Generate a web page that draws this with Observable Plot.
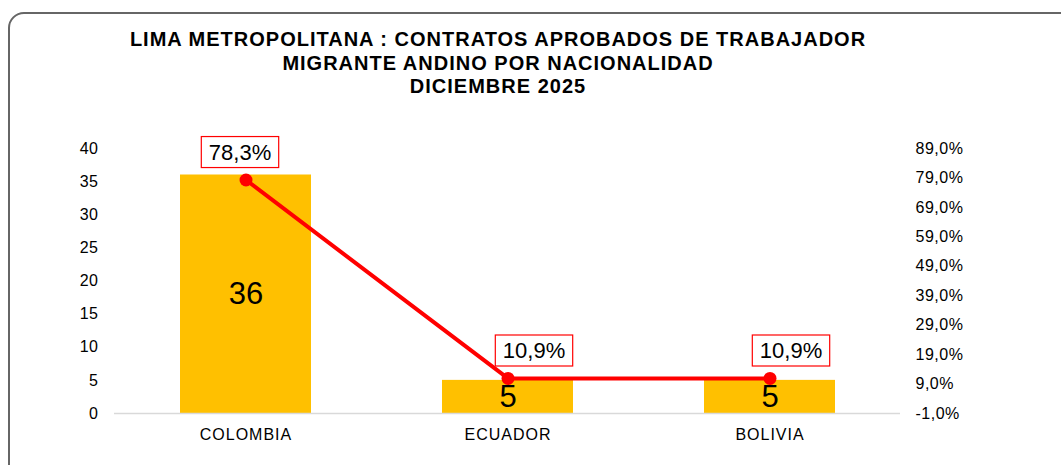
<!DOCTYPE html>
<html>
<head>
<meta charset="utf-8">
<script src="https://cdn.jsdelivr.net/npm/d3@7"></script>
<script src="https://cdn.jsdelivr.net/npm/@observablehq/plot@0.6"></script>
<style>
  html, body { margin: 0; padding: 0; background: #fff; overflow: hidden; }
  body { width: 1061px; height: 465px; position: relative; font-family: "Liberation Sans", Arial, sans-serif; }
  #frame { position: absolute; left: 8px; top: 12px; width: 1080px; height: 480px; border: 2px solid #666; border-radius: 16px; box-sizing: border-box; }
  #title { position: absolute; left: 0; top: 28px; width: 996px; text-align: center; font-weight: bold; font-size: 20px; letter-spacing: 1px; line-height: 23.5px; color: #000; }
  #chart { position: absolute; left: 0; top: 100px; }
  #chart g[aria-label="y-axis tick label"] text { letter-spacing: 0.5px; }
  #chart g[aria-label="x-axis tick label"] text { letter-spacing: 1px; }
</style>
</head>
<body>
<div id="frame"></div>
<div id="title">LIMA METROPOLITANA : CONTRATOS APROBADOS DE TRABAJADOR<br>MIGRANTE ANDINO POR NACIONALIDAD<br>DICIEMBRE 2025</div>
<div id="chart"></div>
<script>
const categories = ["COLOMBIA", "ECUADOR", "BOLIVIA"];
const contratos = [36, 5, 5];
const porcentajes = [78.3, 10.9, 10.9];
const leftTicks = [0, 5, 10, 15, 20, 25, 30, 35, 40];
const rightTicks = [-1, 9, 19, 29, 39, 49, 59, 69, 79, 89];
const labelShift = [-6, 26, 21];

const pctMin = -1, pctMax = 89, leftMax = 40;
const toLeft = p => (p - pctMin) / (pctMax - pctMin) * leftMax;
const fmtPct = v => v.toFixed(1).replace(".", ",") + "%";

const data = categories.map((c, i) => ({cat: c, n: contratos[i], pct: porcentajes[i], yl: toLeft(porcentajes[i]), shift: labelShift[i]}));

const font = "'Liberation Sans', Arial, sans-serif";
const pctLabelMarks = data.map(d => Plot.text([d], {x: "cat", y: "yl", text: d => fmtPct(d.pct), dy: -27.5, dx: d.shift, fontSize: 22, fill: "#000", className: "pctlabel"}));

const plot = Plot.plot({
  width: 1061,
  height: 360,
  marginLeft: 114,
  marginRight: 161,
  marginTop: 48,
  marginBottom: 47,
  style: {fontFamily: font, fontSize: "16px", color: "#000", background: "transparent"},
  x: {domain: categories, paddingInner: 0.5, paddingOuter: 0.25, label: null},
  y: {domain: [0, leftMax], label: null},
  marks: [
    Plot.barY(data, {x: "cat", y: "n", fill: "#FFC000"}),
    Plot.ruleY([0], {stroke: "#d9d9d9", strokeWidth: 1.5}),
    Plot.axisY(leftTicks, {anchor: "left", tickSize: 0, tickPadding: 16, fontSize: 16, label: null}),
    Plot.axisY(rightTicks.map(toLeft), {anchor: "right", tickSize: 0, tickPadding: 15, fontSize: 16, label: null, textAnchor: "start",
      tickFormat: v => fmtPct(v / leftMax * (pctMax - pctMin) + pctMin)}),
    Plot.axisX({tickSize: 0, tickPadding: 15, fontSize: 16, label: null}),
    Plot.text(data, {x: "cat", y: d => d.n / 2, text: d => String(d.n), fontSize: 31, fill: "#000"}),
    Plot.line(data, {x: "cat", y: "yl", stroke: "#FF0000", strokeWidth: 4}),
    Plot.dot(data, {x: "cat", y: "yl", r: 6.5, fill: "#FF0000", stroke: "none"}),
    ...pctLabelMarks
  ]
});
document.getElementById("chart").appendChild(plot);

// draw red boxes around the percentage labels
const svg = d3.select(plot);
svg.selectAll("g.pctlabel text").each(function() {
  const b = this.getBBox();
  const g = this.parentNode;
  const padX = 7.5, padY = 3;
  d3.select(g).insert("rect", () => this)
    .attr("x", b.x - padX).attr("y", b.y - padY)
    .attr("width", b.width + 2 * padX).attr("height", b.height + 2 * padY)
    .attr("transform", this.getAttribute("transform"))
    .attr("fill", "#fff").attr("stroke", "#FF0000").attr("stroke-width", 1.2);
});
</script>
</body>
</html>
